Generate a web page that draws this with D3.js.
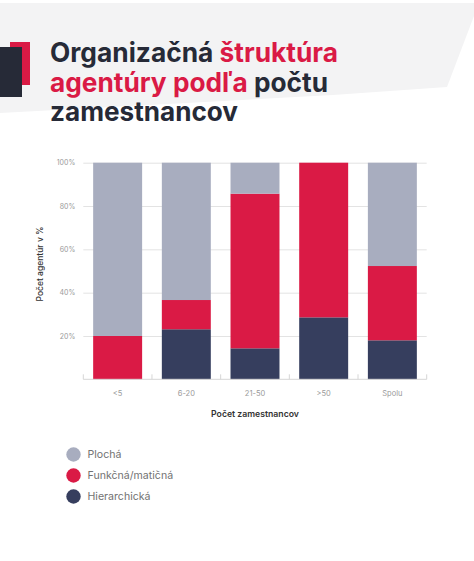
<!DOCTYPE html>
<html><head><meta charset="utf-8">
<script src="https://cdn.jsdelivr.net/npm/d3@7"></script>
<style>body{margin:0;background:#fff}svg{display:block}</style>
</head><body>
<svg id="c" width="474" height="561"></svg>
<script>
const categories = ["<5", "6-20", "21-50", ">50", "Spolu"];
const seriesNames = ["Hierarchická", "Funkčná/matičná", "Plochá"];
const hierarchicka = [0, 23.1, 14.3, 28.6, 18.0];
const funkcna = [20, 13.5, 71.4, 71.4, 34.3];
const plocha = [80, 63.4, 14.3, 0, 47.7];
const yTicks = [0, 20, 40, 60, 80, 100];
const legendOrder = ["Plochá", "Funkčná/matičná", "Hierarchická"];

const colors = {"Plochá": "#a8adbf", "Funkčná/matičná": "#da1a45", "Hierarchická": "#363e5e"};
const svg = d3.select("#c");
const font = "Inter, 'Noto Sans', sans-serif";

// header background
svg.append("path").attr("d", "M0,3 L474,3 L474,16 L447,87 L333,95 L0,113 Z").attr("fill", "#f3f3f4");
svg.append("rect").attr("x", 10).attr("y", 42).attr("width", 20).attr("height", 43).attr("fill", "#da1a45");
svg.append("rect").attr("x", 0).attr("y", 47).attr("width", 22).attr("height", 50).attr("fill", "#262a37");

const titleLines = [
  {y: 62, w: 288, parts: [["Organizačná ", "#262a37"], ["štruktúra", "#da1a45"]]},
  {y: 92, w: 278, parts: [["agentúry podľa ", "#da1a45"], ["počtu", "#262a37"]]},
  {y: 121, w: 188, parts: [["zamestnancov", "#262a37"]]}
];
titleLines.forEach(l => {
  const t = svg.append("text").attr("x", 50).attr("y", l.y)
    .attr("font-family", font).attr("font-weight", 700).attr("font-size", 26.5)
    .attr("textLength", l.w).attr("lengthAdjust", "spacingAndGlyphs");
  l.parts.forEach(p => t.append("tspan").attr("fill", p[1]).text(p[0]));
});

// chart
const x0 = 83.3, x1 = 426.7, yTop = 162.7, yBot = 379.3;
const x = d3.scaleBand().domain(categories).range([x0, x1]).paddingInner(0.287).paddingOuter(0.1435);
const y = d3.scaleLinear().domain([0, 100]).range([yBot, yTop]);

const yAxis = d3.axisLeft(y).tickValues(yTicks.filter(v => v > 0)).tickSize(-(x1 - x0)).tickFormat(d => d + "%");
const gy = svg.append("g").attr("transform", `translate(${x0},0)`).call(yAxis);
gy.select(".domain").remove();
gy.selectAll(".tick line").attr("stroke", "#e3e3e3");
gy.selectAll(".tick text").attr("x", -8).attr("fill", "#9a9a9a").attr("font-size", 7).attr("font-family", font);

const table = categories.map((c, i) => ({cat: c, "Hierarchická": hierarchicka[i], "Funkčná/matičná": funkcna[i], "Plochá": plocha[i]}));
const stacked = d3.stack().keys(seriesNames)(table);
svg.append("g").selectAll("g").data(stacked).join("g").attr("fill", d => colors[d.key])
  .selectAll("rect").data(d => d).join("rect")
  .attr("x", d => x(d.data.cat)).attr("width", x.bandwidth())
  .attr("y", d => y(d[1])).attr("height", d => Math.max(0, y(d[0]) - y(d[1])));

// x axis baseline and ticks between categories
svg.append("line").attr("x1", x0).attr("x2", x1).attr("y1", yBot).attr("y2", yBot).attr("stroke", "#d6d6d6");
const bounds = categories.map(c => x(c) - x.step() * x.paddingInner() / 2);
bounds[0] = x0; bounds.push(x1);
svg.append("g").selectAll("line").data(bounds).join("line")
  .attr("x1", d => d).attr("x2", d => d).attr("y1", yBot - 5).attr("y2", yBot).attr("stroke", "#d6d6d6");

svg.append("g").selectAll("text").data(categories).join("text")
  .attr("x", d => x(d) + x.bandwidth() / 2).attr("y", 395.5).attr("text-anchor", "middle")
  .attr("font-family", font).attr("font-size", 7.5).attr("fill", "#9a9a9a").text(d => d);

svg.append("text").attr("x", (x0 + x1) / 2).attr("y", 417).attr("text-anchor", "middle")
  .attr("font-family", font).attr("font-weight", 600).attr("font-size", 8.7).attr("fill", "#333")
  .text("Počet zamestnancov");
svg.append("text").attr("transform", "translate(43,264) rotate(-90)").attr("text-anchor", "middle")
  .attr("font-family", font).attr("font-weight", 500).attr("font-size", 8.5).attr("fill", "#333")
  .text("Počet agentúr v %");

// legend
const lg = svg.append("g").selectAll("g").data(legendOrder).join("g")
  .attr("transform", (d, i) => `translate(73.5,${454.5 + i * 21})`);
lg.append("circle").attr("r", 7.2).attr("fill", d => colors[d]);
lg.append("text").attr("x", 14).attr("y", 3.8).attr("font-family", font).attr("font-size", 10.6)
  .attr("fill", "#727272").text(d => d);
</script>
</body></html>
